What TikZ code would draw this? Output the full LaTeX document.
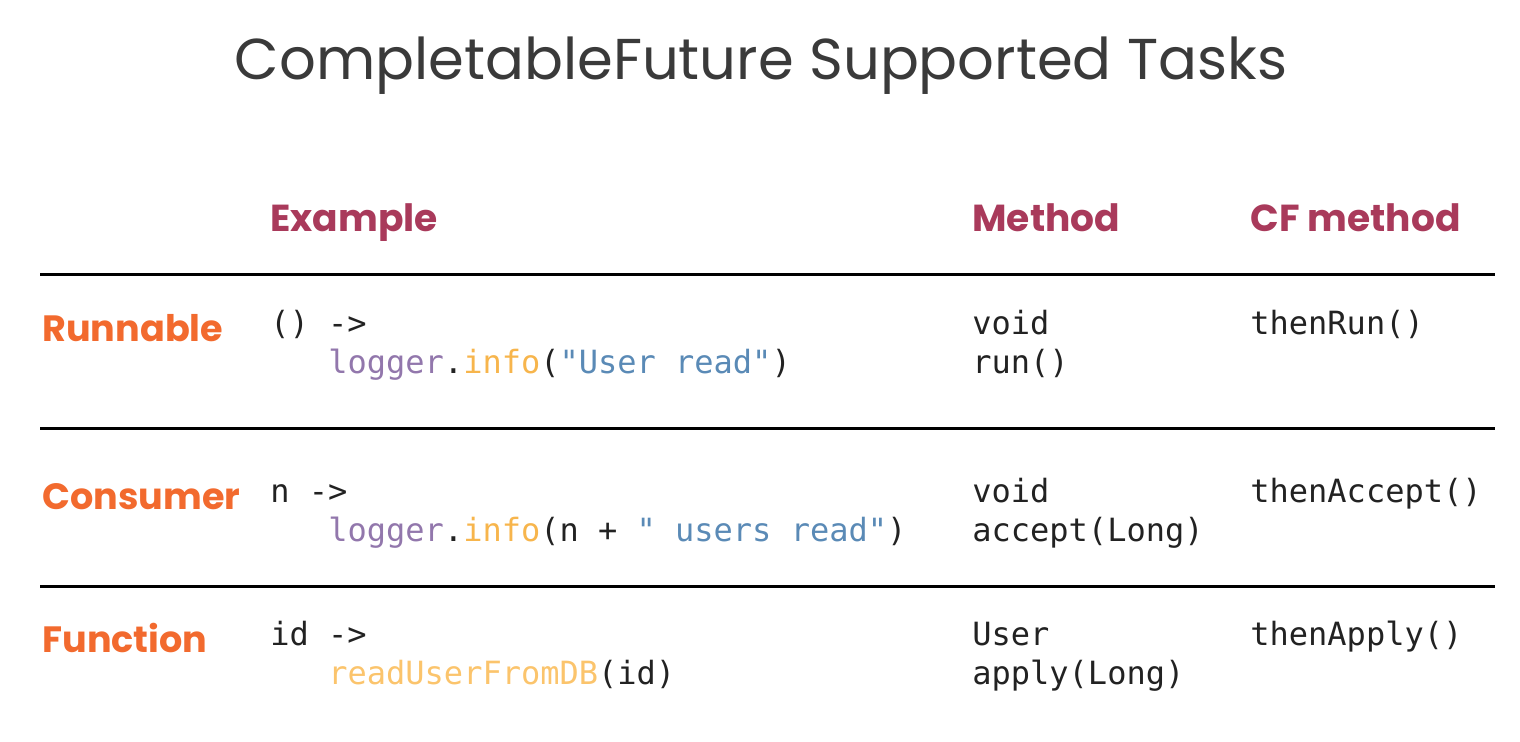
\documentclass[tikz,border=0pt]{standalone}
\usepackage{fontspec}
\setmainfont{Poppins}
\setmonofont{DejaVu Sans Mono}
\usetikzlibrary{positioning}

\definecolor{hdrred}{HTML}{A93A5B}
\definecolor{rowor}{HTML}{F26A2E}
\definecolor{titlegray}{HTML}{3A3A3A}
\definecolor{codeblk}{HTML}{222222}
\definecolor{cpurple}{HTML}{9277AC}
\definecolor{cyellow}{HTML}{F7B54C}
\definecolor{cblue}{HTML}{5A8AB6}
\definecolor{clight}{HTML}{FBC46C}

\newcommand{\loginfo}{\textcolor{cpurple}{logger}.\textcolor{cyellow}{info}}

\begin{document}
\begin{tikzpicture}[
  x=0.5pt, y=-0.5pt,
  every node/.style = {inner sep=0pt, anchor=base west},
  hdr/.style = {font=\fontsize{18.8}{22}\selectfont\bfseries, text=hdrred},
  rowlabel/.style = {font=\fontsize{18.3}{22}\selectfont\bfseries, text=rowor},
  code/.style = {font=\fontsize{16}{19}\selectfont\ttfamily, text=codeblk},
  rule/.style = {line width=1.5pt, black}
  ]
  \useasboundingbox (0,0) rectangle (1520,742);

  % title
  \node[font=\fontsize{28.8}{34}\selectfont, text=titlegray, anchor=base] (title) at (761,80) {CompletableFuture Supported Tasks};

  % column headers
  \node[hdr] (hEx) at (270,232) {Example};
  \node[hdr] (hMe) at (972,232) {Method};
  \node[hdr] (hCf) at (1250,232) {CF method};

  % rules
  \draw[rule] (40,275) -- (1495,275);
  \draw[rule] (40,429) -- (1495,429);
  \draw[rule] (40,586) -- (1495,586);

  % Runnable
  \node[rowlabel] (rRun) at (42,342) {Runnable};
  \node[code] (runA) at (270,335) {() ->};
  \node[code] (runB) at (328,374) {\loginfo(\textcolor{cblue}{"User read"})};
  \node[code] (runM1) at (972,335) {void};
  \node[code] (runM2) at (972,374) {run()};
  \node[code] (runCf) at (1250,335) {thenRun()};

  % Consumer
  \node[rowlabel] (rCon) at (42,510) {Consumer};
  \node[code] (conA) at (270,503) {n ->};
  \node[code] (conB) at (328,542) {\loginfo(n + \textcolor{cblue}{" users read"})};
  \node[code] (conM1) at (972,503) {void};
  \node[code] (conM2) at (972,542) {accept(Long)};
  \node[code] (conCf) at (1250,503) {thenAccept()};

  % Function
  \node[rowlabel] (rFun) at (42,652) {Function};
  \node[code] (funA) at (270,645) {id ->};
  \node[code] (funB) at (328,684) {\textcolor{clight}{readUserFromDB}(id)};
  \node[code] (funM1) at (972,645) {User};
  \node[code] (funM2) at (972,684) {apply(Long)};
  \node[code] (funCf) at (1250,645) {thenApply()};
\end{tikzpicture}
\end{document}
